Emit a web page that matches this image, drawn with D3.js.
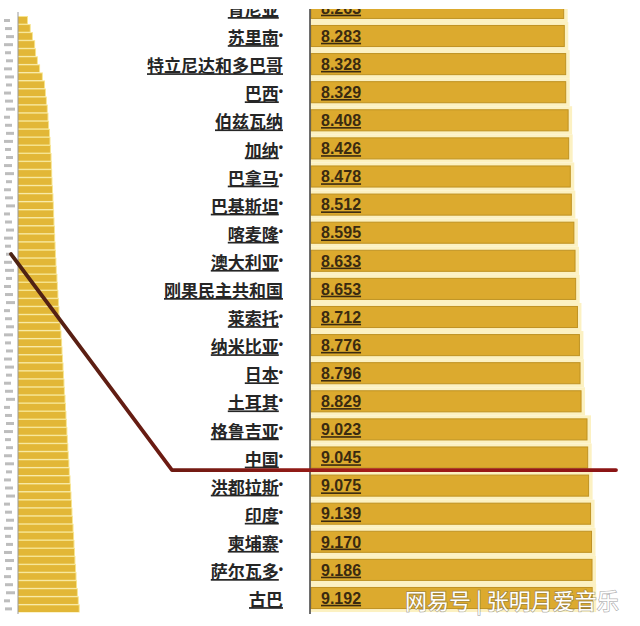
<!DOCTYPE html>
<html><head><meta charset="utf-8">
<script src="https://cdn.jsdelivr.net/npm/d3@7"></script>
<style>html,body{margin:0;padding:0;background:#fff;}svg{display:block;}</style>
</head><body>
<script>
// ---- data ----
const rowLabels = ["肯尼亚","苏里南","特立尼达和多巴哥","巴西","伯兹瓦纳","加纳","巴拿马","巴基斯坦","喀麦隆","澳大利亚","刚果民主共和国","莱索托","纳米比亚","日本","土耳其","格鲁吉亚","中国","洪都拉斯","印度","柬埔寨","萨尔瓦多","古巴"];
const rowValues = [8.263,8.283,8.328,8.329,8.408,8.426,8.478,8.512,8.595,8.633,8.653,8.712,8.776,8.796,8.829,9.023,9.045,9.075,9.139,9.170,9.186,9.192];
const rowMarked = [true,true,false,true,false,true,true,true,true,true,false,true,true,true,true,true,true,true,true,true,true,false];
const highlight = "中国";
// overview thumbnail (whole ranking, estimated profile)
const miniValues = [1.45,1.9,2.25,2.6,2.75,3.05,3.4,3.85,4.2,4.35,4.5,4.65,4.75,4.85,5.0,5.08,5.15,5.25,5.3,5.35,5.4,5.48,5.55,5.62,5.66,5.72,5.8,5.83,5.9,5.96,6.03,6.1,6.2,6.27,6.35,6.44,6.52,6.6,6.75,6.85,6.95,7.02,7.1,7.18,7.25,7.33,7.4,7.5,7.58,7.65,7.72,7.8,7.88,7.95,8.03,8.12,8.2,8.3,8.38,8.46,8.55,8.62,8.7,8.8,8.88,8.95,9.03,9.1,9.2,9.28,9.36,9.5,9.65,9.8];
const miniHighlightIndex = 29;
const watermark = "网易号 | 张明月爱音乐";

const W = 640, H = 626;
const svg = d3.select("body").append("svg").attr("width", W).attr("height", H);
const defs = svg.append("defs");
defs.append("clipPath").attr("id","clip").append("rect").attr("x",0).attr("y",9).attr("width",W).attr("height",H-9);
const grad = defs.append("linearGradient").attr("id","lineGrad").attr("gradientUnits","userSpaceOnUse")
  .attr("x1",0).attr("y1",0).attr("x2",620).attr("y2",0);
grad.append("stop").attr("offset","0").attr("stop-color","#4a2414");
grad.append("stop").attr("offset","0.28").attr("stop-color","#6e1a12");
grad.append("stop").attr("offset","0.6").attr("stop-color","#a51a18");
grad.append("stop").attr("offset","1").attr("stop-color","#8a1414");

const g = svg.append("g").attr("clip-path","url(#clip)");

// ---- main chart ----
const x = d3.scaleLinear().domain([0,10]).range([310,617]);
const y = d3.scaleBand().domain(rowLabels).range([-6.15, 612.05]).paddingInner(0.25).paddingOuter(0.125);
const step = y.step(), bw = y.bandwidth();
const rows = rowLabels.map((name,i)=>({name, v: rowValues[i], mark: rowMarked[i]}));

// pale glow behind bars
g.selectAll("rect.halo").data(rows).join("rect").attr("class","halo")
  .attr("x", x(0)).attr("y", d => y(d.name) - (step-bw)/2)
  .attr("width", d => x(d.v) - x(0) + 4).attr("height", step)
  .attr("fill", "#fcf1c2");
g.selectAll("rect.bar").data(rows).join("rect").attr("class","bar")
  .attr("x", x(0)+1).attr("y", d => y(d.name))
  .attr("width", d => x(d.v) - x(0) - 1).attr("height", bw)
  .attr("fill", "#dcaa2e").attr("stroke","#bf9222").attr("stroke-width",1);
// axis line
g.append("line").attr("x1",x(0)).attr("x2",x(0)).attr("y1",0).attr("y2",614)
  .attr("stroke","#4a4a4a").attr("stroke-width",1.6);

// values
g.selectAll("text.val").data(rows).join("text").attr("class","val")
  .attr("x", x(0)+11).attr("y", d => y(d.name)+bw/2).attr("dy","0.36em")
  .attr("font-family","'Liberation Sans', Arial, sans-serif").attr("font-weight","bold")
  .attr("font-size",16).attr("fill","#3a2a10").attr("text-decoration","underline")
  .text(d => d.v.toFixed(3));

// labels
const lab = g.selectAll("text.lab").data(rows).join("text").attr("class","lab")
  .attr("x", 283).attr("y", d => y(d.name)+bw/2+2).attr("dy","0.36em")
  .attr("text-anchor","end")
  .attr("font-family","'Noto Sans CJK SC', sans-serif").attr("font-size",17)
  .attr("font-weight","bold").attr("fill","#262626");
lab.append("tspan").attr("text-decoration","underline").text(d => d.name);
lab.filter(d => d.mark).append("tspan").attr("font-family","'Liberation Sans', Arial, sans-serif")
  .attr("font-size",12).attr("dy","-0.45em").text("•");

// ---- overview thumbnail ----
const mx = d3.scaleLinear().domain([0,10]).range([18,80]);
const my = d3.scaleBand().domain(d3.range(miniValues.length)).range([17,612]).paddingInner(0.18);
g.selectAll("rect.mhalo").data(miniValues).join("rect").attr("class","mhalo")
  .attr("x", mx(0)).attr("y",(d,i)=>my(i)-1).attr("width", d=>mx(d)-mx(0)+1).attr("height", my.step())
  .attr("fill","#f6e48f");
g.selectAll("rect.mbar").data(miniValues).join("rect").attr("class","mbar")
  .attr("x", mx(0)).attr("y",(d,i)=>my(i)).attr("width", d=>mx(d)-mx(0)).attr("height", my.bandwidth())
  .attr("fill","#e2b737");
g.append("line").attr("x1",mx(0)).attr("x2",mx(0)).attr("y1",12).attr("y2",614)
  .attr("stroke","#9a9a9a").attr("stroke-width",1);
// tiny unreadable thumbnail labels
g.selectAll("rect.mlab").data(miniValues).join("rect").attr("class","mlab")
  .attr("x", (d,i)=> mx(0) - 14 + (i%3)).attr("y",(d,i)=>my(i)+2).attr("width",(d,i)=> 6 + (i%4)).attr("height",3)
  .attr("fill","#bdbdbd");

// ---- connector line ----
const yLine = y(highlight) + bw + 2;
const pts = [[mx(0)-7, my(miniHighlightIndex)+my.bandwidth()/2], [172, yLine], [616, yLine]];
svg.append("path").attr("d", d3.line()(pts)).attr("fill","none")
  .attr("stroke","url(#lineGrad)").attr("stroke-width",3.8)
  .attr("stroke-linejoin","round").attr("stroke-linecap","round");

// ---- watermark ----
svg.append("text").attr("x",405).attr("y",609)
  .attr("font-family","'Noto Sans CJK SC', sans-serif").attr("font-size",22)
  .attr("fill","#ffffff").attr("stroke","rgba(90,90,90,0.45)").attr("stroke-width",1.6)
  .attr("paint-order","stroke").text(watermark);
</script>
</body></html>
